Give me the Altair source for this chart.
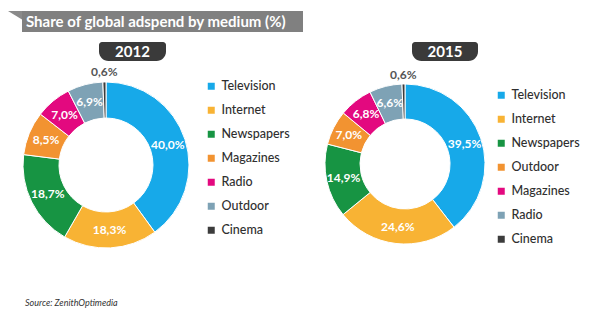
import altair as alt
import pandas as pd

# ---- data ----
cats_2012 = ["Television", "Internet", "Newspapers", "Magazines", "Radio", "Outdoor", "Cinema"]
vals_2012 = [40.0, 18.3, 18.7, 8.5, 7.0, 6.9, 0.6]
cats_2015 = ["Television", "Internet", "Newspapers", "Outdoor", "Magazines", "Radio", "Cinema"]
vals_2015 = [39.5, 24.6, 14.9, 7.0, 6.8, 6.6, 0.6]
palette = ["#17A9E9", "#F8B334", "#179443", "#F29331", "#E3097F", "#7EA2B5", "#3C3C3C"]
title_text = "Share of global adspend by medium (%)"
source_text = "Source: ZenithOptimedia"
years = ["2012", "2015"]

FONT = "Lato"


def frame(cats, vals):
    return pd.DataFrame({
        "medium": cats,
        "share": vals,
        "rank": list(range(len(cats))),
        "label": [f"{v:.1f}".replace(".", ",") + "%" for v in vals],
    })


def donut(df, cx, cy, r_out, r_in, r_lab, r_out_lab, lx, ly):
    arc = alt.Chart(df).mark_arc(
        outerRadius=r_out, innerRadius=r_in, stroke="white", strokeWidth=1
    ).encode(
        x=alt.value(cx), y=alt.value(cy),
        theta=alt.Theta("share:Q", stack=True, scale=alt.Scale(domain=[0, 100])),
        order=alt.Order("rank:Q"),
        color=alt.Color(
            "medium:N",
            sort=list(df["medium"]),
            scale=alt.Scale(domain=list(df["medium"]), range=palette),
            legend=alt.Legend(
                title=None, orient="none", legendX=lx, legendY=ly, padding=0,
                symbolType="square", symbolSize=49, symbolStrokeWidth=0,
                labelFont=FONT, labelFontSize=12.5, labelColor="#2f2f2f",
                labelFontWeight=500, labelOffset=4, rowPadding=11,
            ),
        ),
    )
    base = alt.Chart(df).transform_window(
        cum="sum(share)", sort=[alt.SortField("rank")]
    ).transform_calculate(mid="datum.cum - datum.share / 2")
    inner = base.transform_filter("datum.share >= 1").mark_text(
        radius=r_lab, font=FONT, fontWeight="bold", fontSize=12, color="white"
    ).encode(
        x=alt.value(cx), y=alt.value(cy),
        theta=alt.Theta("mid:Q", scale=alt.Scale(domain=[0, 100])),
        text="label:N",
    )
    outer = base.transform_filter("datum.share < 1").mark_text(
        radius=r_out_lab, font=FONT, fontWeight="bold", fontSize=12, color="#555555"
    ).encode(
        x=alt.value(cx), y=alt.value(cy),
        theta=alt.Theta("mid:Q", scale=alt.Scale(domain=[0, 100])),
        text="label:N",
    )
    return [arc, inner, outer]


one = pd.DataFrame({"k": [0]})

banner = alt.Chart(one).mark_rect(color="#808080").encode(
    x=alt.value(22), x2=alt.value(303), y=alt.value(11), y2=alt.value(32)
)
fold = alt.Chart(one).mark_point(
    shape="M-1,-1L1,-1L1,0.2Z", filled=True, color="#8a8a8a", opacity=1, size=196
).encode(x=alt.value(15), y=alt.value(18))
title = alt.Chart(pd.DataFrame({"t": [title_text]})).mark_text(
    align="left", baseline="middle", font=FONT, fontWeight="bold", fontSize=15, color="white"
).encode(x=alt.value(26), y=alt.value(22), text="t:N")

def badge(x0, x1, year):
    r = alt.Chart(one).mark_rect(
        color="#3A3A3A", cornerRadiusTopLeft=3, cornerRadiusTopRight=3,
        cornerRadiusBottomLeft=10, cornerRadiusBottomRight=10
    ).encode(x=alt.value(x0), x2=alt.value(x1), y=alt.value(42), y2=alt.value(61))
    t = alt.Chart(pd.DataFrame({"t": [year]})).mark_text(
        align="center", baseline="middle", font=FONT, fontWeight="bold", fontSize=15, color="white"
    ).encode(x=alt.value((x0 + x1) / 2), y=alt.value(51.5), text="t:N")
    return [r, t]

source = alt.Chart(pd.DataFrame({"t": [source_text]})).mark_text(
    align="left", baseline="middle", font=FONT, fontStyle="italic", fontSize=9, color="#333333"
).encode(x=alt.value(25), y=alt.value(303), text="t:N")

layers = [banner, fold, title]
layers += badge(99, 166, years[0])
layers += badge(412, 478, years[1])
layers += donut(frame(cats_2012, vals_2012), 106, 165, 83, 47, 65, 93, 205, 80)
layers += donut(frame(cats_2015, vals_2015), 405, 164, 80, 45, 63, 89, 495, 89)
layers += [source]

chart = alt.layer(*layers).resolve_scale(
    color="independent", theta="independent"
).properties(
    width=616, height=333, autosize=alt.AutoSizeParams(type="none"), padding=0,
    background="white",
).configure_view(stroke=None)

chart.save("out.html", embed_options={"renderer": "svg", "actions": False})
